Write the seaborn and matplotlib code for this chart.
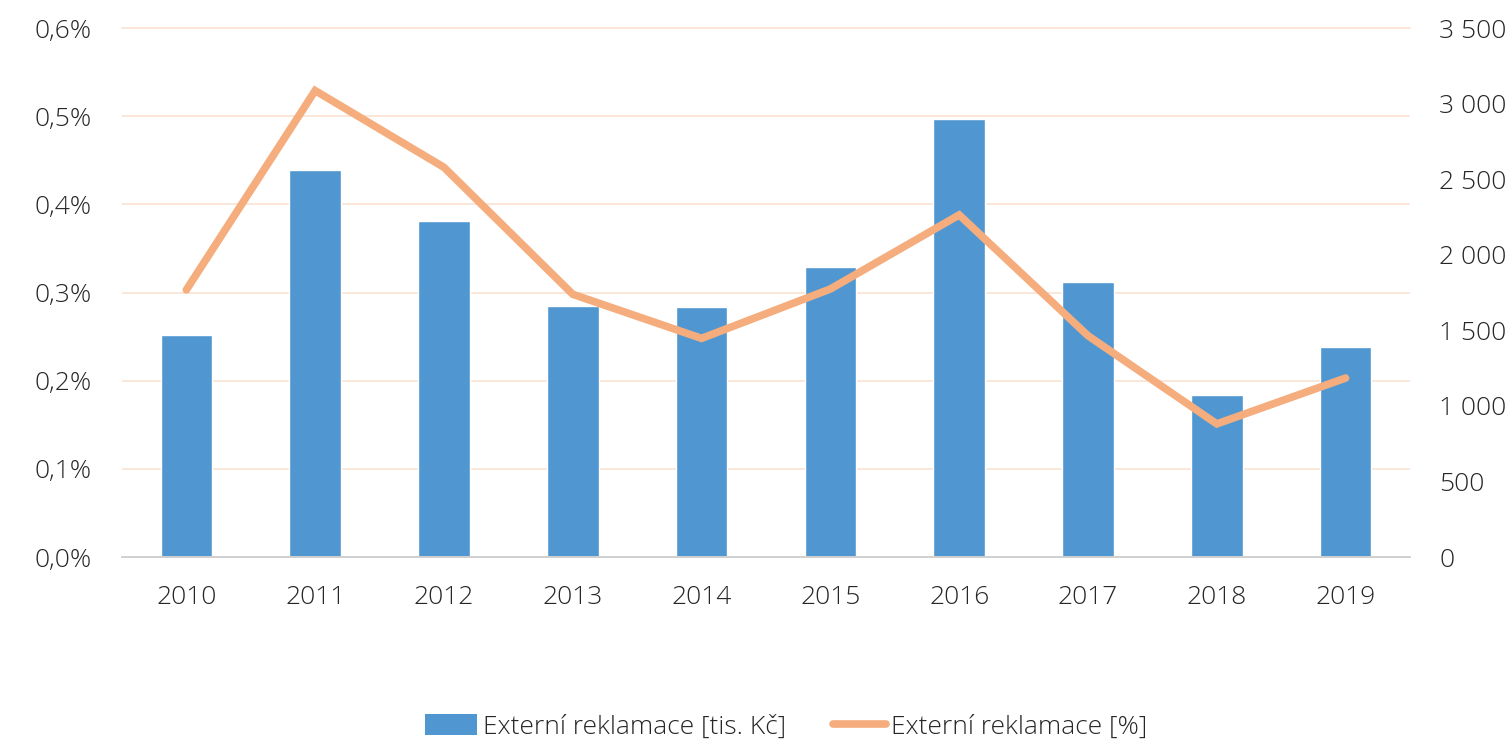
import numpy as np
import pandas as pd
import seaborn as sns
import matplotlib.pyplot as plt

from matplotlib.lines import Line2D
from matplotlib.patches import Patch
from matplotlib.ticker import FuncFormatter, MultipleLocator

years = ["2010", "2011", "2012", "2013", "2014", "2015", "2016", "2017", "2018", "2019"]
claims_czk = [1470, 2560, 2220, 1660, 1655, 1920, 2900, 1820, 1075, 1390]
claims_pct = [0.303, 0.529, 0.442, 0.298, 0.248, 0.304, 0.388, 0.251, 0.151, 0.203]

bar_label = "Externí reklamace [tis. Kč]"
line_label = "Externí reklamace [%]"

blue = "#5097d1"
orange = "#f5ad7d"
grid_color = "#fbe3d3"
axis_gray = "#d0d0d0"
text_color = "#262626"
fs = 19

sns.set_style("white")
plt.rcParams["font.family"] = ["Open Sans", "DejaVu Sans"]
plt.rcParams["font.weight"] = "light"
plt.rcParams["font.size"] = fs
plt.rcParams["text.color"] = text_color
plt.rcParams["xtick.color"] = text_color
plt.rcParams["ytick.color"] = text_color

df = pd.DataFrame({"year": years, "czk": claims_czk, "pct": claims_pct})

fig = plt.figure(figsize=(15.09, 7.43), dpi=100)
ax1 = fig.add_axes([0.0808, 0.2503, 0.8536, 0.712])

# bars live on the primary axes, but their scale is shown on the right
sns.barplot(data=df, x="year", y="czk", color=blue, width=0.4, saturation=1, ax=ax1, zorder=2)
ax1.set_ylim(0, 3500)
ax1.yaxis.set_major_locator(MultipleLocator(500))
ax1.yaxis.set_major_formatter(FuncFormatter(lambda v, p: f"{int(v):,}".replace(",", " ")))
# gridlines follow the % axis (6 steps), drawn behind the bars
ax1.yaxis.set_minor_locator(MultipleLocator(3500 / 6))
ax1.set_axisbelow(True)
ax1.grid(False, which="major")
ax1.grid(True, which="minor", axis="y", color=grid_color, linewidth=1.2)
ax1.set_xlim(-0.5, 9.5)

ax2 = ax1.twinx()
sns.lineplot(data=df, x="year", y="pct", color=orange, linewidth=5.5, ax=ax2,
             solid_capstyle="round", solid_joinstyle="miter", zorder=3)
ax2.set_ylim(0, 0.6)
ax2.yaxis.set_major_locator(MultipleLocator(0.1))
ax2.yaxis.set_major_formatter(FuncFormatter(lambda v, p: f"{v:.1f}".replace(".", ",") + "%"))
ax2.set_xlim(-0.5, 9.5)

# swap sides after twinx (twinx resets the parent to the left)
ax1.yaxis.tick_right()
ax2.yaxis.tick_left()

for ax in (ax1, ax2):
    ax.set_xlabel("")
    ax.set_ylabel("")
    for s in ("left", "right"):
        ax.spines[s].set_visible(False)
    ax.spines["bottom"].set_color(axis_gray)
    ax.spines["bottom"].set_linewidth(1.2)
    ax.tick_params(axis="y", which="both", length=0, labelsize=fs)

# top gridline (0,6 %) is the top spine
ax1.spines["top"].set_color(grid_color)
ax1.spines["top"].set_linewidth(1.2)
ax2.spines["top"].set_visible(False)

ax1.tick_params(axis="y", pad=21)
ax2.tick_params(axis="y", pad=22)
ax1.set_xticks(np.arange(-0.5, 10, 1), minor=True)
ax1.tick_params(axis="x", which="major", length=0, pad=20, labelsize=fs)
ax1.tick_params(axis="x", which="minor", length=8, width=1.2, color=axis_gray)
ax2.tick_params(axis="x", which="both", length=0, labelbottom=False)

for t in ax1.get_xticklabels() + ax1.get_yticklabels() + ax2.get_yticklabels():
    t.set_fontweight("light")

if ax2.get_legend():
    ax2.get_legend().remove()

handles = [
    Patch(facecolor=blue, edgecolor="none", label=bar_label),
    Line2D([0], [0], color=orange, linewidth=5.5, solid_capstyle="round", label=line_label),
]
fig.legend(handles=handles, loc="center", bbox_to_anchor=(0.521, 0.022), ncol=2,
           frameon=False, handlelength=2.0, handleheight=0.85,
           handletextpad=0.2, columnspacing=1.8, prop={"weight": "light", "size": fs})

fig.savefig("out.png", dpi=100)
